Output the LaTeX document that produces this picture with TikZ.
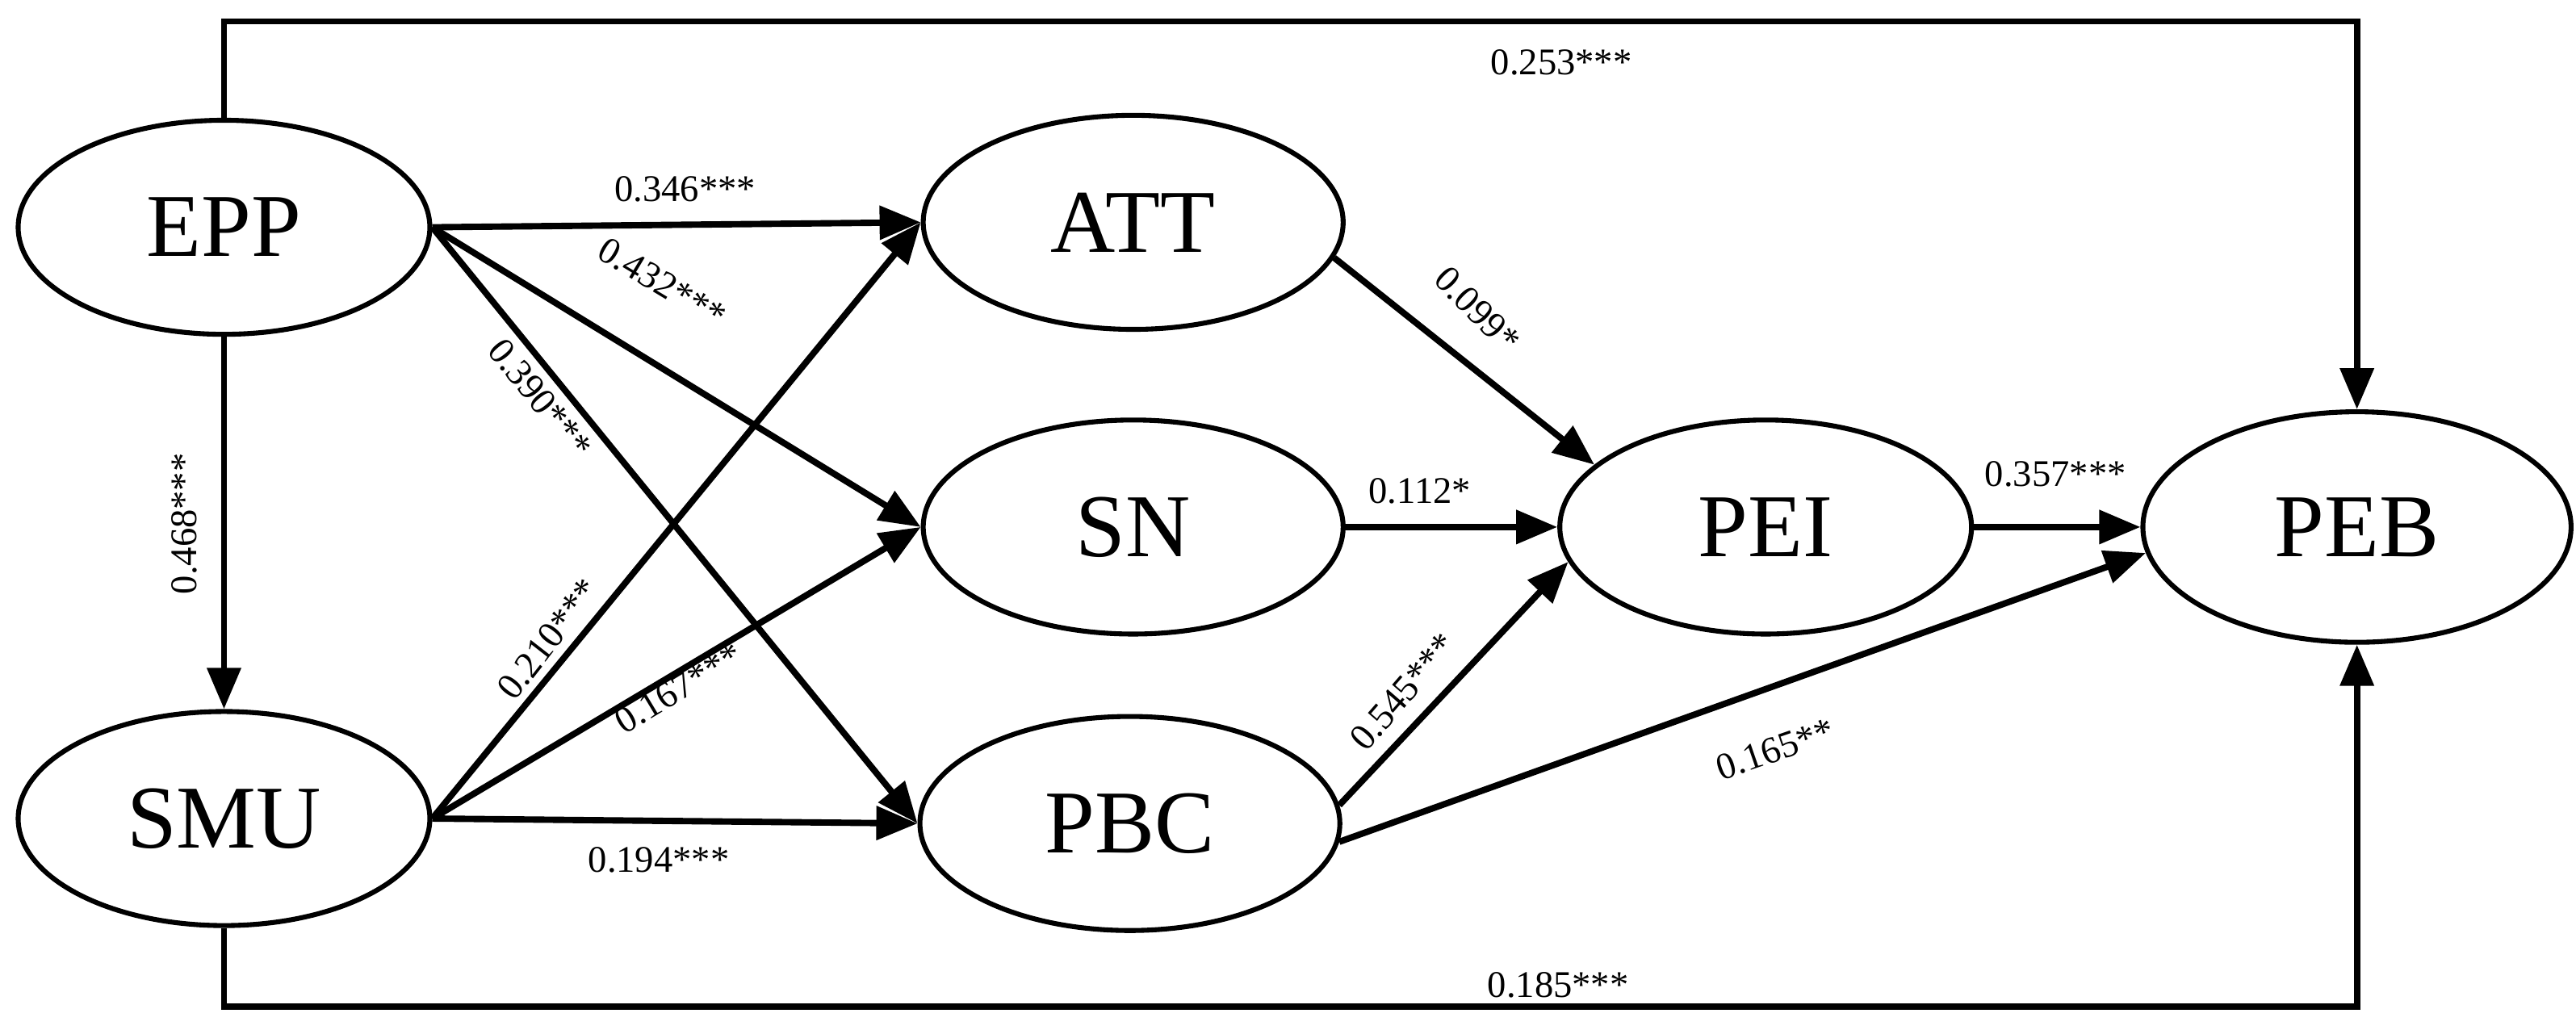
\documentclass[tikz,border=0pt]{standalone}
\usepackage{fontspec}
\setmainfont{Liberation Serif}
\usetikzlibrary{shapes.geometric,arrows.meta}
\begin{document}
\begin{tikzpicture}[x=0.02cm,y=-0.02cm,
  lat/.style={ellipse,draw,line width=1.7pt,minimum width=5.0cm,minimum height=2.6cm,font=\fontsize{31}{31}\selectfont,inner sep=0pt},
  arr/.style={line width=2.2pt,-{Triangle[length=0.5cm,width=0.4cm]}},
  lab/.style={font=\fontsize{13}{13}\selectfont,inner sep=0pt}]
\useasboundingbox (0,0) rectangle (1564,625);
\node[lat] (EPP) at (136,138) {EPP};
\node[lat] (SMU) at (136,497) {SMU};
\node[lat,minimum width=5.1cm] (ATT) at (688,135) {ATT};
\node[lat,minimum width=5.1cm] (SN) at (688,320) {SN};
\node[lat,minimum width=5.1cm] (PBC) at (686,500) {PBC};
\node[lat] (PEI) at (1072,320) {PEI};
\node[lat,minimum width=5.2cm,minimum height=2.8cm] (PEB) at (1431,320) {PEB};
\coordinate (top) at (700,13);
\coordinate (bot) at (700,611);
\draw[arr] (EPP.north) |- (top) -| (PEB.north);
\draw[arr] (SMU.south) |- (bot) -| (PEB.south);
\draw[arr] (EPP.east) -- (ATT.west);
\draw[arr] (EPP.east) -- (SN.west);
\draw[arr] (EPP.east) -- (PBC.west);
\draw[arr] (EPP.south) -- (SMU.north);
\draw[arr] (SMU.east) -- (ATT.west);
\draw[arr] (SMU.east) -- (SN.west);
\draw[arr] (SMU.east) -- (PBC.west);
\draw[arr] (ATT.-10) -- (PEI.160);
\draw[arr] (SN.east) -- (PEI.west);
\draw[arr] (PBC.5) -- (PEI.190);
\draw[arr] (PBC.-5) -- (PEB.187);
\draw[arr] (PEI.east) -- (PEB.west);
\node[lab] (l1) at (948,38) {0.253***};
\node[lab] (l2) at (946,598) {0.185***};
\node[lab] (l3) at (416,115) {0.346***};
\node[lab,rotate=-31] (l4) at (402,172) {0.432***};
\node[lab,rotate=-51] (l5) at (328,242) {0.390***};
\node[lab,rotate=90] (l6) at (112,318) {0.468***};
\node[lab,rotate=52] (l7) at (333,388) {0.210***};
\node[lab,rotate=31] (l8) at (412,418) {0.167***};
\node[lab] (l9) at (400,522) {0.194***};
\node[lab,rotate=-45] (l10) at (897,188) {0.099*};
\node[lab] (l11) at (862,298) {0.112*};
\node[lab,rotate=49] (l12) at (852,420) {0.545***};
\node[lab,rotate=19] (l13) at (1078,455) {0.165**};
\node[lab] (l14) at (1248,288) {0.357***};
\end{tikzpicture}
\end{document}
